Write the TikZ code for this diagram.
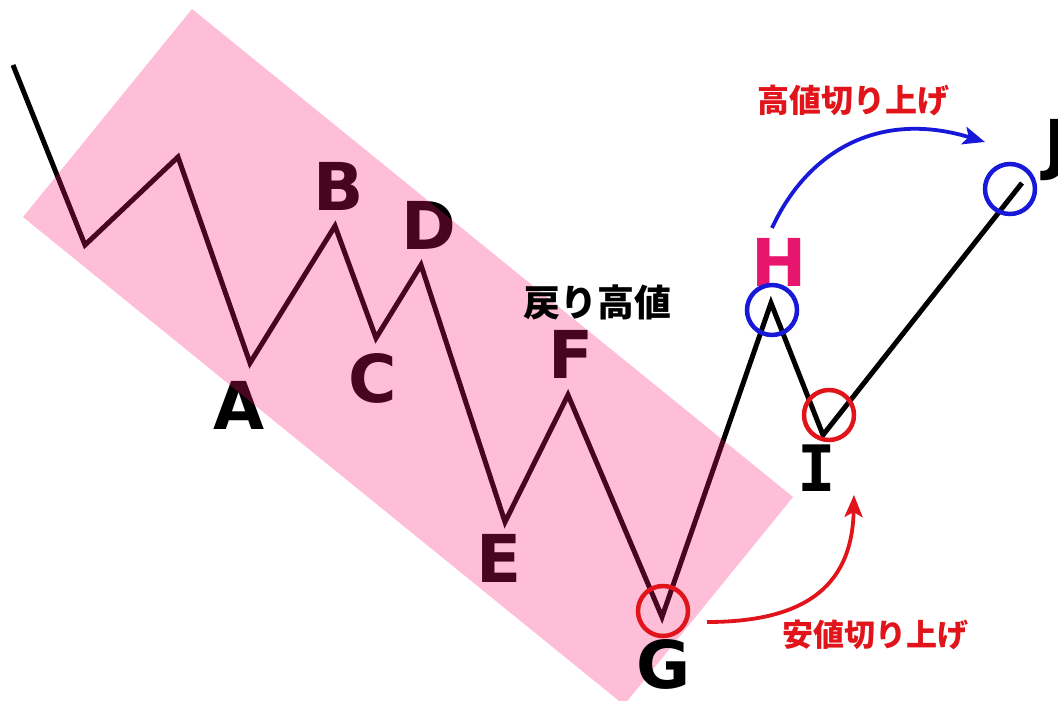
\documentclass[tikz,border=0pt]{standalone}
\usepackage{fontspec}
\setmainfont{DejaVu Sans}
\newfontfamily\jpfont{Noto Sans CJK JP}
\newfontfamily\slabfont{DejaVu Sans Mono}
\usepackage{tikz}
\usetikzlibrary{arrows.meta}
\definecolor{band}{HTML}{FF146E}
\definecolor{lowred}{HTML}{E0141A}
\definecolor{highblue}{HTML}{1818D8}
\definecolor{peakpink}{HTML}{E8156E}

\begin{document}
\begin{tikzpicture}[x=1pt,y=-1pt,
    letter/.style={font=\fontsize{66}{66}\selectfont\bfseries, inner sep=0pt},
    jplabel/.style={font=\jpfont\bfseries\fontsize{#1}{#1}\selectfont, inner sep=0pt},
    ring/.style={circle, draw=#1, line width=4.5pt, minimum size=50pt, inner sep=0pt},
    swing/.style={#1, line width=3.8pt, -{Stealth[length=22pt,width=18pt,inset=5pt]}}]
  \useasboundingbox (0,0) rectangle (1058,701);
  % price path
  \coordinate (s) at (13,65);
  \coordinate (w1) at (85,245);
  \coordinate (w2) at (178,157);
  \coordinate (a) at (250,363);
  \coordinate (b) at (335,226);
  \coordinate (c) at (376,338);
  \coordinate (d) at (421,265);
  \coordinate (e) at (505,522);
  \coordinate (f) at (568,395);
  \coordinate (g) at (662,617);
  \coordinate (h) at (771,303);
  \coordinate (i) at (823,435);
  \coordinate (j) at (1022,183);
  \draw[line width=5pt, line join=miter] (s) -- (w1) -- (w2) -- (a) -- (b) -- (c) -- (d)
    -- (e) -- (f) -- (g) -- (h) -- (i) -- (j);
  \node[letter] (la) at (239,405) {A};
  \node[letter] (lb) at (339,186) {B};
  \node[letter] (lc) at (373,378) {C};
  \node[letter] (ld) at (429,225) {D};
  \node[letter] (le) at (499,558) {E};
  \node[letter] (lf) at (571,354) {F};
  % down channel
  \fill[band, opacity=0.28] (192,9) -- (793,497) -- (624,705) -- (23,217) -- cycle;
  \node[letter] (lg) at (664,664) {G};
  \node[letter, peakpink] (lh) at (779,262) {H};
  \node[letter, font=\slabfont\fontsize{64}{64}\selectfont\bfseries] (li) at (817,468) {I};
  \node[letter, anchor=west] (lj) at (1044,150) {J};
  \node[ring=lowred] (rg) at (663,611) {};
  \node[ring=highblue] (rh) at (772,310) {};
  \node[ring=lowred] (ri) at (829,415) {};
  \node[ring=highblue] (rj) at (1010,189) {};
  \node[jplabel=37] (back) at (597,302) {戻り高値};
  \node[jplabel=32, lowred] (uphigh) at (853,101) {高値切り上げ};
  \node[jplabel=31, lowred] (uplow) at (875,635) {安値切り上げ};
  % higher high / higher low
  \coordinate (hs) at (772,228);
  \coordinate (ht) at (985,142);
  \draw[swing=highblue] (hs) .. controls (808,150) and (880,110) .. (ht);
  \coordinate (gs) at (707,622);
  \coordinate (gt) at (854,495);
  \draw[swing=lowred] (gs) .. controls (800,622) and (852,590) .. (gt);
\end{tikzpicture}
\end{document}
